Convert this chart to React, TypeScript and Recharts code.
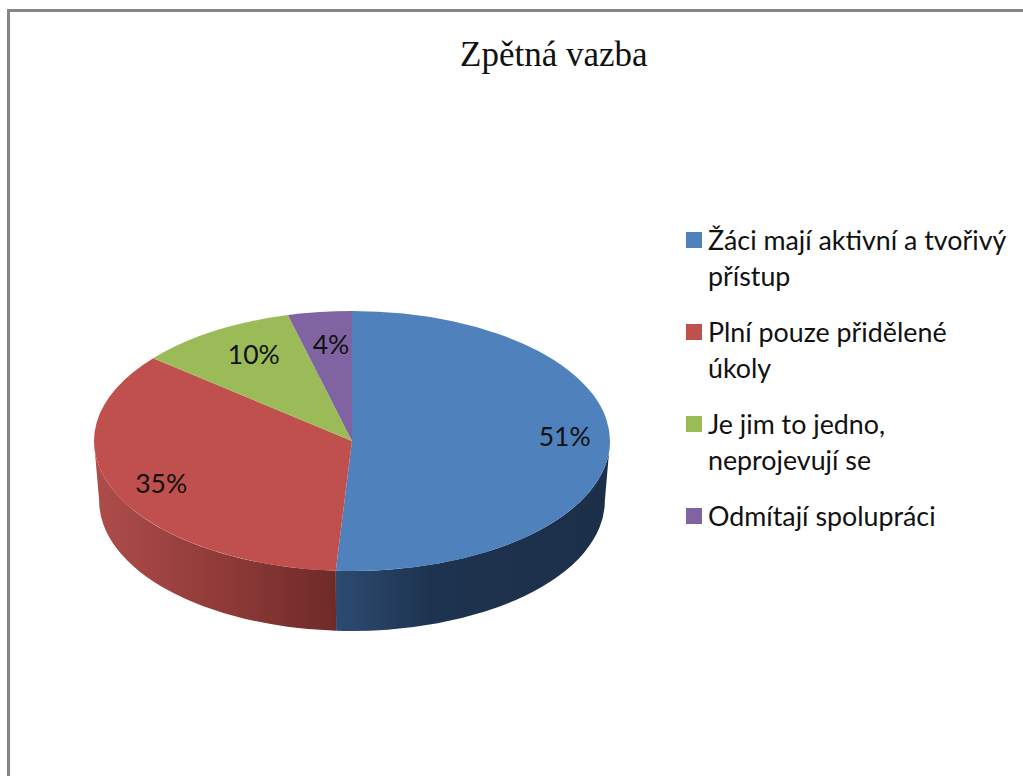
import React from "react";
import { PieChart, Pie, Legend } from "recharts";

const categories = [
  "Žáci mají aktivní a tvořivý přístup",
  "Plní pouze přidělené úkoly",
  "Je jim to jedno, neprojevují se",
  "Odmítají spolupráci",
];
const values = [51, 35, 10, 4];
const colors = ["#4F81BD", "#C0504D", "#9BBB59", "#8064A2"];

// where each percent label sits, the chart places them "best fit"
const labelRadial = [0.825, 0.806, 0.71, 0.65];
const labelLift = [-8, 0, -9, -13];

const data = categories.map((name, i) => ({ name, value: values[i], fill: colors[i] }));

const SQUASH = 130 / 258;
const DEPTH = 60;
const BOTTOM_SHRINK = 0.98; // lower rim is a bit narrower, perspective
const RAD = Math.PI / 180;

const sideStops: Record<string, [number, string][]> = {
  "#4F81BD": [[0, "#2C4B72"], [0.35, "#1E334F"], [1, "#1C2F49"]],
  "#C0504D": [[0, "#AE4D4B"], [0.55, "#8E3A38"], [1, "#6F2A28"]],
};

function Slice3D(props: any) {
  const { cx, cy, outerRadius, startAngle, endAngle, fill } = props;
  const rx = outerRadius;
  const ry = outerRadius * SQUASH;
  const rb = rx * BOTTOM_SHRINK;
  const px = (a: number) => cx + rx * Math.cos(a * RAD);
  const py = (a: number) => cy - ry * Math.sin(a * RAD);
  const bx = (a: number) => cx + rb * Math.cos(a * RAD);
  const large = Math.abs(startAngle - endAngle) > 180 ? 1 : 0;
  const top = `M${cx},${cy} L${px(startAngle)},${py(startAngle)} A${rx},${ry} 0 ${large} 1 ${px(endAngle)},${py(endAngle)} Z`;

  // the side wall only shows on the front half of the disc
  const a0 = Math.min(startAngle, 0);
  const a1 = Math.max(endAngle, -180);
  const stops = sideStops[fill];
  const id = "side" + fill.slice(1);
  let wall = null;
  if (a0 > a1 && stops) {
    const d =
      `M${px(a0)},${py(a0)} A${rx},${ry} 0 0 1 ${px(a1)},${py(a1)} ` +
      `L${bx(a1)},${py(a1) + DEPTH} A${rb},${ry} 0 0 0 ${bx(a0)},${py(a0) + DEPTH} Z`;
    wall = (
      <>
        <defs>
          <linearGradient id={id} x1="0" y1="0" x2="1" y2="0">
            {stops.map(([o, c]) => (
              <stop key={o} offset={o} stopColor={c} />
            ))}
          </linearGradient>
        </defs>
        <path d={d} fill={`url(#${id})`} />
      </>
    );
  }
  return (
    <g>
      {wall}
      <path d={top} fill={fill} />
    </g>
  );
}

function renderLabel(props: any) {
  const { cx, cy, outerRadius, midAngle, index, value } = props;
  const r = outerRadius * labelRadial[index];
  const x = cx + r * Math.cos(midAngle * RAD);
  const y = cy - r * SQUASH * Math.sin(midAngle * RAD) + labelLift[index];
  return (
    <text x={x} y={y} textAnchor="middle" dominantBaseline="central" fontFamily="Lato" fontSize={26.5} fill="#111">
      {value}%
    </text>
  );
}

function LegendBox() {
  return (
    <div style={{ fontFamily: "Lato", fontSize: 26.8, lineHeight: "36px", color: "#111" }}>
      {data.map((d) => (
        <div key={d.name} style={{ position: "relative", paddingLeft: 22, marginBottom: 20 }}>
          <span
            style={{ position: "absolute", left: 0, top: 10, width: 16, height: 16, background: d.fill }}
          />
          {d.name}
        </div>
      ))}
    </div>
  );
}

export default function App() {
  return (
    <div style={{ position: "absolute", left: 0, top: 0, width: 1023, height: 776, overflow: "hidden", background: "#fff" }}>
      <div style={{ position: "absolute", left: 7, top: 9, width: 1016, height: 767, borderLeft: "3px solid #868686", borderTop: "3px solid #868686", boxSizing: "border-box" }} />
      <div style={{ position: "absolute", left: 460, top: 34, fontFamily: "Liberation Serif", fontSize: 35, lineHeight: "42px", color: "#111", whiteSpace: "nowrap" }}>
        Zpětná vazba
      </div>
      <PieChart width={1023} height={776} margin={{ top: 0, right: 0, bottom: 0, left: 0 }}>
        <Pie
          data={data}
          dataKey="value"
          nameKey="name"
          cx={352}
          cy={441}
          outerRadius={258}
          startAngle={90}
          endAngle={-270}
          stroke="none"
          shape={Slice3D}
          label={renderLabel}
          labelLine={false}
          isAnimationActive={false}
        />
        <Legend
          content={<LegendBox />}
          layout="vertical"
          wrapperStyle={{ position: "absolute", left: 686, top: 222, width: 326, bottom: "auto", right: "auto" }}
        />
      </PieChart>
    </div>
  );
}
